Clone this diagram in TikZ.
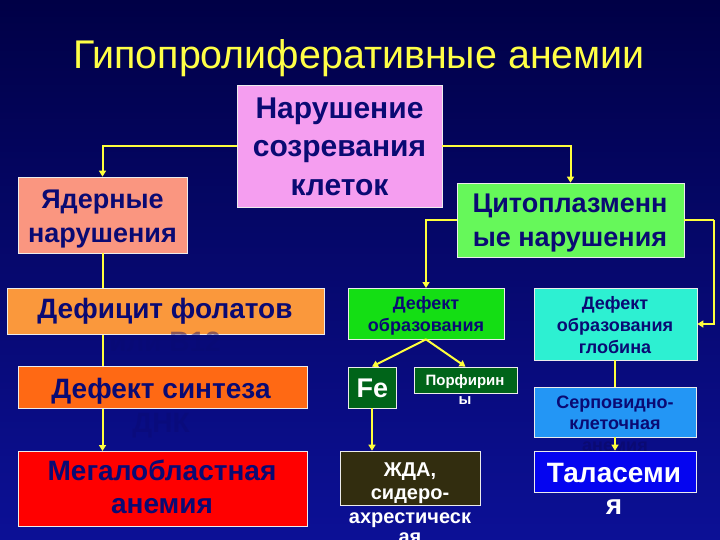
\documentclass[tikz,border=0pt]{standalone}
\usepackage{fontspec}
\setmainfont{Liberation Sans}
\usepackage{graphicx}
\usetikzlibrary{arrows.meta}
\definecolor{bgtop}{RGB}{0,0,70}
\definecolor{bgbot}{RGB}{12,16,150}
\definecolor{navytxt}{RGB}{10,10,115}
\definecolor{titlec}{RGB}{255,255,70}
\definecolor{connc}{RGB}{255,255,60}
\definecolor{pinkc}{RGB}{245,158,240}
\definecolor{salmonc}{RGB}{250,150,128}
\definecolor{cytoc}{RGB}{102,248,90}
\definecolor{folc}{RGB}{250,152,60}
\definecolor{sintc}{RGB}{255,105,20}
\definecolor{megc}{RGB}{255,0,0}
\definecolor{dobrc}{RGB}{20,222,20}
\definecolor{dgreenc}{RGB}{0,100,25}
\definecolor{zhdac}{RGB}{50,45,15}
\definecolor{globc}{RGB}{45,240,210}
\definecolor{serpc}{RGB}{35,150,245}
\definecolor{talc}{RGB}{5,5,240}
\begin{document}
\begin{tikzpicture}[x=1pt,y=-1pt,
  box/.style={draw=white!85!gray, line width=0.7pt, inner sep=0pt},
  lbl/.style={inner sep=0pt, anchor=base, text=navytxt, font=\bfseries},
  hid/.style={lbl, text opacity=0.45},
  wlbl/.style={inner sep=0pt, anchor=base, text=white, font=\bfseries},
  conn/.style={draw=connc, line width=2pt},
  arr/.style={conn, -{Triangle[width=7pt,length=6pt]}}]
\shade[top color=bgtop, bottom color=bgbot] (0,0) rectangle (720,540);
\useasboundingbox (0,0) rectangle (720,540);
% title
\node[inner sep=0pt, anchor=base, text=titlec, font=\fontsize{40}{48}\selectfont] (title) at (359,69) {\scalebox{0.985}[1]{Гипопролиферативные анемии}};
% boxes
\node[box, fill=pinkc, minimum width=205pt, minimum height=122pt] (pink) at (339.5,146) {};
\node[box, fill=salmonc, minimum width=169pt, minimum height=76pt] (yad) at (102.5,215) {};
\node[box, fill=cytoc, minimum width=227pt, minimum height=74pt] (cyto) at (570.5,220) {};
% connectors behind lower-left boxes
\draw[arr] (pink.west) -| (yad.north);
\draw[arr] (pink.east) -| (cyto.north);
\draw[arr] (yad.south) -- (yad.south |- 0,451);
\draw[arr] (cyto.west) -| (426,288);
\draw[conn] (cyto.east) -- ++(30,0) coordinate (cr);
\node[box, fill=folc, minimum width=317pt, minimum height=46pt] (fol) at (165.5,311) {};
\node[box, fill=sintc, minimum width=289pt, minimum height=42pt] (sint) at (162.5,387) {};
\node[box, fill=megc, minimum width=289pt, minimum height=75pt] (meg) at (162.5,488.5) {};
\node[box, fill=dobrc, minimum width=156pt, minimum height=51pt] (dobr) at (426,313.5) {};
\node[box, fill=dgreenc, minimum width=48pt, minimum height=41pt] (fe) at (372,387.5) {};
\node[box, fill=dgreenc, minimum width=103pt, minimum height=26pt] (porf) at (465.5,380) {};
\node[box, fill=zhdac, minimum width=140pt, minimum height=54pt] (zhda) at (410,478) {};
\node[box, fill=globc, minimum width=163pt, minimum height=72pt] (glob) at (615.5,324) {};
\node[box, fill=serpc, minimum width=162pt, minimum height=50pt] (serp) at (615,412) {};
\draw[arr] (cr) |- (glob.east);
\draw[arr] (dobr.south) -- (porf.north);
\draw[arr] (dobr.south) -- (fe.north);
\draw[arr] (fe.south) -- (fe.south |- zhda.north);
\draw[conn] (serp.north |- glob.south) -- (serp.north);
% texts
\node[lbl, font=\bfseries\fontsize{30}{36}\selectfont] (p1) at (339.5,119) {Нарушение};
\node[lbl, font=\bfseries\fontsize{30}{36}\selectfont] (p2) at (339.5,157) {созревания};
\node[lbl, font=\bfseries\fontsize{30}{36}\selectfont] (p3) at (339.5,196) {клеток};
\node[lbl, font=\bfseries\fontsize{27}{32}\selectfont] (y1) at (102.5,208) {Ядерные};
\node[lbl, font=\bfseries\fontsize{27}{32}\selectfont] (y2) at (102.5,242) {нарушения};
\node[lbl, font=\bfseries\fontsize{27}{32}\selectfont] (c1) at (570,213) {Цитоплазменн};
\node[lbl, font=\bfseries\fontsize{27}{32}\selectfont] (c2) at (570,246) {ые нарушения};
\node[lbl, font=\bfseries\fontsize{28}{32}\selectfont] (f1) at (165,318) {Дефицит фолатов};
\node[hid, font=\bfseries\fontsize{28}{32}\selectfont] (f2) at (165,351) {или В12};
\node[lbl, font=\bfseries\fontsize{28}{32}\selectfont] (s1) at (161,398) {Дефект синтеза};
\node[hid, font=\bfseries\fontsize{28}{32}\selectfont] (s2) at (161,432) {ДНК};
\node[lbl, font=\bfseries\fontsize{28}{32}\selectfont] (m1) at (162,480) {Мегалобластная};
\node[lbl, font=\bfseries\fontsize{28}{32}\selectfont] (m2) at (162,513) {анемия};
\node[lbl, font=\bfseries\fontsize{18}{22}\selectfont] (d1) at (426,309) {Дефект};
\node[lbl, font=\bfseries\fontsize{18}{22}\selectfont] (d2) at (426,331) {образования};
\node[wlbl, font=\bfseries\fontsize{27}{32}\selectfont] (fet) at (372.5,397) {Fe};
\node[wlbl, font=\bfseries\fontsize{15}{18}\selectfont] (po1) at (465,385) {Порфирин};
\node[wlbl, font=\bfseries\fontsize{15}{18}\selectfont] (po2) at (465,404) {ы};
\node[wlbl, font=\bfseries\fontsize{20}{24}\selectfont] (z1) at (410,476) {ЖДА,};
\node[wlbl, font=\bfseries\fontsize{20}{24}\selectfont] (z2) at (410,499) {сидеро-};
\node[wlbl, font=\bfseries\fontsize{20}{24}\selectfont] (z3) at (410,523) {ахрестическ};
\node[wlbl, font=\bfseries\fontsize{20}{24}\selectfont] (z4) at (410,543) {ая};
\node[lbl, font=\bfseries\fontsize{18}{22}\selectfont] (g1) at (615,309) {Дефект};
\node[lbl, font=\bfseries\fontsize{18}{22}\selectfont] (g2) at (615,331) {образования};
\node[lbl, font=\bfseries\fontsize{18}{22}\selectfont] (g3) at (615,353) {глобина};
\node[lbl, font=\bfseries\fontsize{18}{22}\selectfont] (sr1) at (615,408) {Серповидно-};
\node[lbl, font=\bfseries\fontsize{18}{22}\selectfont] (sr2) at (615,429) {клеточная};
\node[lbl, font=\bfseries\fontsize{18}{22}\selectfont] (sr3) at (615,451) {анемия};
\node[box, fill=talc, minimum width=162pt, minimum height=41pt] (tal) at (615,471.5) {};
\draw[arr] (serp.south) -- (tal.north);
\node[wlbl, font=\bfseries\fontsize{28}{32}\selectfont] (t1) at (614,482) {Таласеми};
\node[wlbl, font=\bfseries\fontsize{28}{32}\selectfont] (t2) at (614,514) {я};
\end{tikzpicture}
\end{document}
